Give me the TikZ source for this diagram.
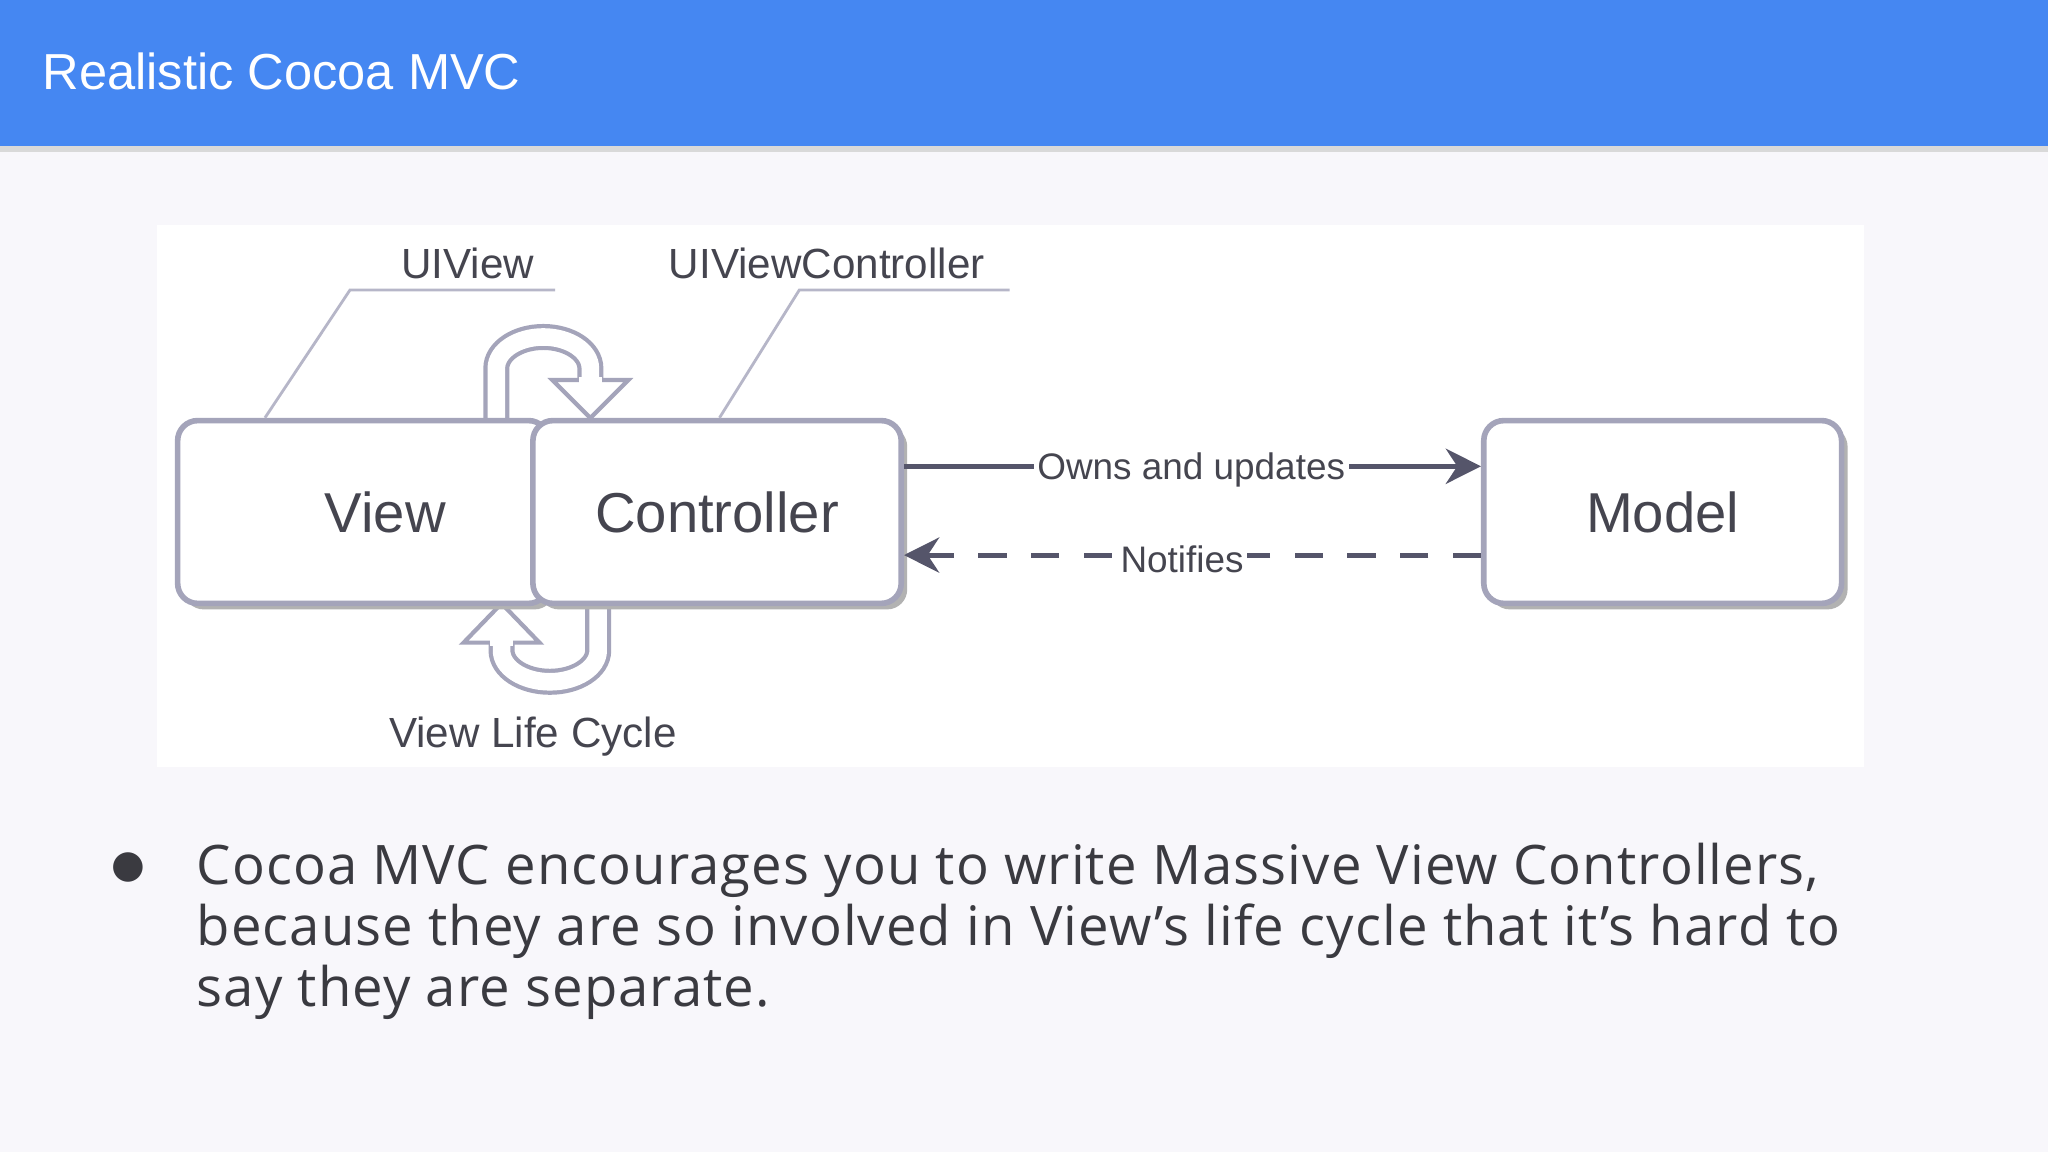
\documentclass[tikz,border=0pt]{standalone}
\usepackage{fontspec}
\setmainfont{Open Sans}[LetterSpace=2]
\newfontfamily\diag{Liberation Sans}
\newfontfamily\dejafont{DejaVu Sans}
\usetikzlibrary{shadows,arrows.meta}
\definecolor{hdr}{HTML}{4587F2}
\definecolor{bg}{HTML}{F8F7FB}
\definecolor{bord}{HTML}{A4A4BA}
\definecolor{dtext}{HTML}{45454F}
\definecolor{arr}{HTML}{55556A}
\definecolor{btext}{HTML}{3A3A40}
\tikzset{
  box/.style={draw=bord, line width=1.6pt, fill=white, rounded corners=0.2cm,
    minimum height=1.828cm, font=\diag\fontsize{16}{18}\selectfont, text=dtext,
    drop shadow={shadow xshift=0.06cm, shadow yshift=-0.06cm, fill=black!30, opacity=1}},
  lbl/.style={font=\diag\fontsize{12}{14}\selectfont, text=dtext},
  alabel/.style={font=\diag\fontsize{10.5}{12}\selectfont, text=dtext, fill=white, inner sep=1pt},
  leader/.style={draw=bord!80, line width=0.8pt},
  shaft/.style={draw=bord, line width=1.2pt, double=white, double distance=5pt},
  head/.style={draw=bord, line width=1.2pt, fill=white, line join=miter},
  conn/.style={draw=arr, line width=1.4pt, -{Stealth[length=10pt,width=10pt]}},
}
\begin{document}
\begin{tikzpicture}[x=0.01306cm, y=-0.01306cm]
\fill[bg] (0,0) rectangle (1568,882);
\useasboundingbox (0,0) rectangle (1568,882);
\fill[black!15] (0,112) rectangle (1568,116);
\fill[hdr] (0,0) rectangle (1568,112);
\node[anchor=west, inner sep=0pt, text=white, font=\diag\fontsize{14.4}{17}\selectfont] (title) at (32,55) {Realistic Cocoa MVC};
\fill[white] (120,172) rectangle (1427,587);

% cycle arrows (top)
\draw[shaft] (380,322) -- (380,282) arc[start angle=180, end angle=360, x radius=36, y radius=24] -- (452,292);
\draw[head] (423,291) -- (452,320) -- (481,291) -- cycle;
\draw[white, line width=2pt] (443,291) -- (461,291);
% (bottom)
\draw[shaft] (458,462) -- (458,498) arc[start angle=0, end angle=180, x radius=37, y radius=24] -- (384,491);
\draw[head] (355,492) -- (384,462) -- (413,492) -- cycle;
\draw[white, line width=2pt] (375,492) -- (393,492);

\node[box, minimum width=3.709cm] (view) at (278,392) {\hspace*{12.6pt}View};
\node[box, minimum width=3.683cm] (ctrl) at (549,392) {Controller};
\node[box, minimum width=3.578cm] (model) at (1273,392) {Model};

% labels and leaders
\node[lbl, anchor=base] (uiv) at (358,213) {UIView};
\node[lbl, anchor=base] (uivc) at (633,213) {UIViewController};
\coordinate (l1) at (268,222); \coordinate (l2) at (612,222);
\draw[leader] (view.north west) ++(69,0) -- (l1) -- (425,222);
\draw[leader] (ctrl.north west) ++(145,0) -- (l2) -- (773,222);
\node[lbl, anchor=base] (vlc) at (408,572) {View Life Cycle};

% connectors
\draw[conn] (ctrl.east |- 0,357) -- (model.west |- 0,357);
\node[alabel] (owns) at (912,360) {Owns and updates};
\draw[conn, dashed, dash pattern=on 8pt off 7pt] (model.west |- 0,425) -- (ctrl.east |- 0,425);
\node[alabel] (notif) at (905,428) {Notifies};

% bullet text
\node[text=btext, font=\dejafont\fontsize{11}{17.4}\selectfont] (bul) at (98,664) {●};
\node[anchor=north west, text=btext, align=left, inner sep=0pt,
  font=\fontsize{15.5}{17.4}\selectfont] (txt) at (150,645)
  {Cocoa MVC encourages you to write Massive View Controllers,\\
   because they are so involved in View’s life cycle that it’s hard to\\
   say they are separate.};
\end{tikzpicture}
\end{document}
